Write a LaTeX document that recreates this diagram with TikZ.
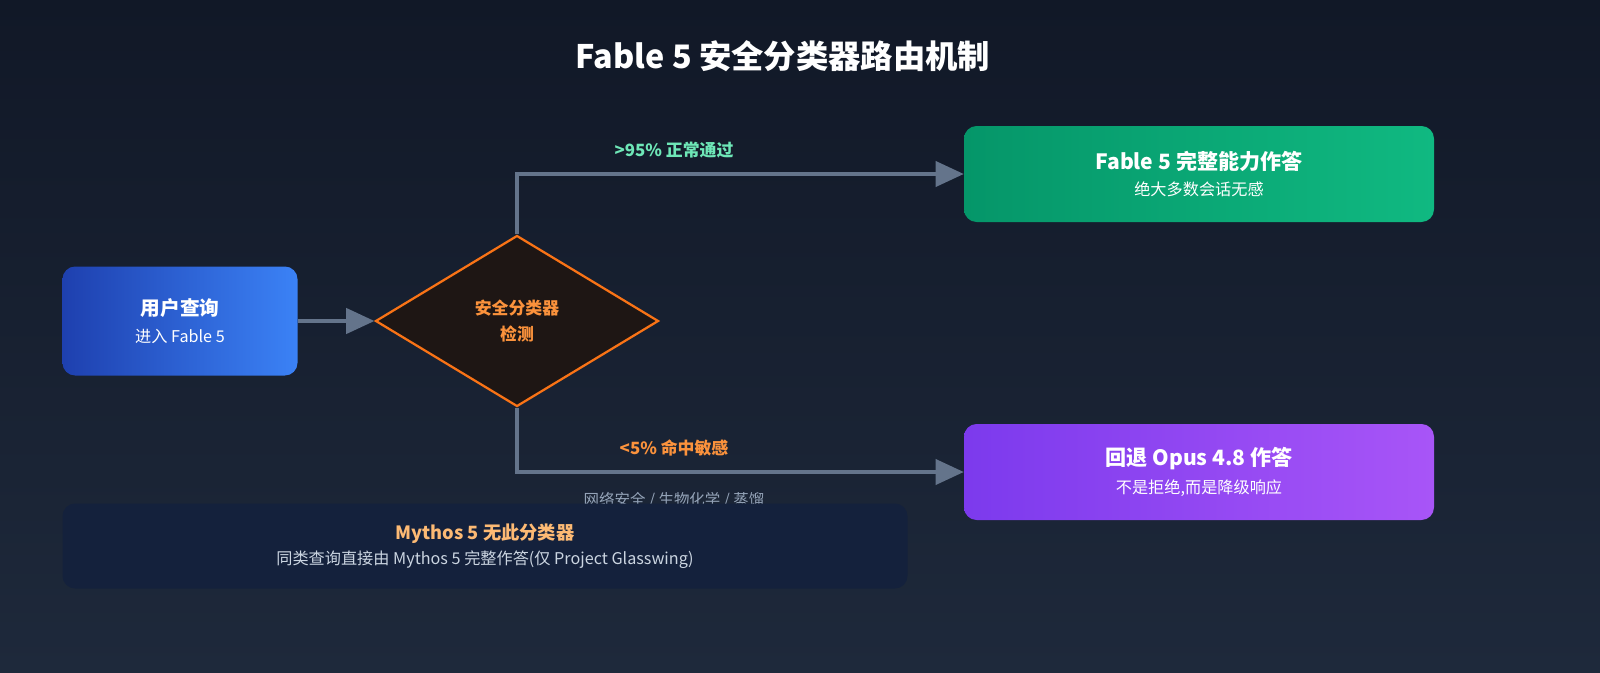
\documentclass[tikz,border=0pt]{standalone}
\usepackage{fontspec}
\setmainfont{Noto Sans CJK SC}
\usetikzlibrary{arrows.meta,shapes.geometric}
\definecolor{bgtop}{HTML}{111827}
\definecolor{bgbot}{HTML}{1E293B}
\definecolor{link}{HTML}{64748B}
\definecolor{orangeline}{HTML}{F97316}
\definecolor{orangetext}{HTML}{FB923C}
\definecolor{lightorange}{HTML}{FDBA74}
\definecolor{mint}{HTML}{6EE7B7}
\definecolor{subgray}{HTML}{94A3B8}
\definecolor{notegray}{HTML}{CBD5E1}
\definecolor{bluel}{HTML}{1E40AF}
\definecolor{bluer}{HTML}{3B82F6}
\tikzset{
  box/.style={rounded corners=9pt, minimum width=235*0.025cm, minimum height=109*0.025cm, align=center, text=white},
  route/.style={line width=2.2pt, draw=link, -{Triangle[length=20pt,width=18pt]}},
}
\begin{document}
\begin{tikzpicture}[x=0.025cm,y=-0.025cm]
\useasboundingbox (0,0) rectangle (1600,672);
\shade[top color=bgtop, bottom color=bgbot] (0,0) rectangle (1600,672);

\node[text=white, font=\fontsize{23}{27}\selectfont\bfseries] (title) at (783,56) {Fable 5 安全分类器路由机制};

% source and classifier
\node[box, left color=bluel, right color=bluer] (query) at (180,321)
  {{\fontsize{14}{18}\selectfont\bfseries 用户查询}\\[7pt]{\fontsize{11.5}{14}\selectfont 进入 Fable 5}};
\node[diamond, draw=orangeline, line width=1.6pt, fill={rgb,255:red,30;green,22;blue,20},
  minimum width=283*0.025cm, minimum height=171*0.025cm, inner sep=0pt,
  text=orangetext, align=center, font=\fontsize{12}{18}\selectfont\bfseries] (check) at (517,321) {安全分类器\\检测};

% targets
\node[box, minimum width=470*0.025cm, minimum height=96*0.025cm, left color={rgb,255:red,5;green,150;blue,105}, right color={rgb,255:red,16;green,185;blue,129}] (full) at (1199,174)
  {{\fontsize{15}{18}\selectfont\bfseries Fable 5 完整能力作答}\\[6pt]{\fontsize{11.5}{14}\selectfont 绝大多数会话无感}};
\node[box, minimum width=470*0.025cm, minimum height=96*0.025cm, left color={rgb,255:red,124;green,58;blue,237}, right color={rgb,255:red,168;green,85;blue,247}] (fallback) at (1199,472)
  {{\fontsize{15}{18}\selectfont\bfseries 回退 Opus 4.8 作答}\\[6pt]{\fontsize{11.5}{14}\selectfont 不是拒绝,而是降级响应}};

\draw[route] (query) -- (check);
\draw[route] (check.north) |- (full.west);
\draw[route] (check.south) |- (fallback.west);

\node[text=mint, font=\fontsize{12}{14}\selectfont\bfseries] (passlbl) at (674,150) {>95\% 正常通过};
\node[text=orangetext, font=\fontsize{12}{14}\selectfont\bfseries] (hitlbl) at (674,448) {<5\% 命中敏感};
\node[text=subgray, font=\fontsize{11}{14}\selectfont] (hitsub) at (674,500) {网络安全 / 生物化学 / 蒸馏};

% note
\node[rounded corners=9pt, fill={rgb,255:red,20;green,33;blue,60}, minimum width=845*0.025cm, minimum height=85*0.025cm, align=center] (note) at (485,546)
  {{\color{lightorange}\fontsize{13}{16}\selectfont\bfseries Mythos 5 无此分类器}\\[4pt]{\color{notegray}\fontsize{11.5}{14}\selectfont 同类查询直接由 Mythos 5 完整作答(仅 Project Glasswing)}};
\end{tikzpicture}
\end{document}
